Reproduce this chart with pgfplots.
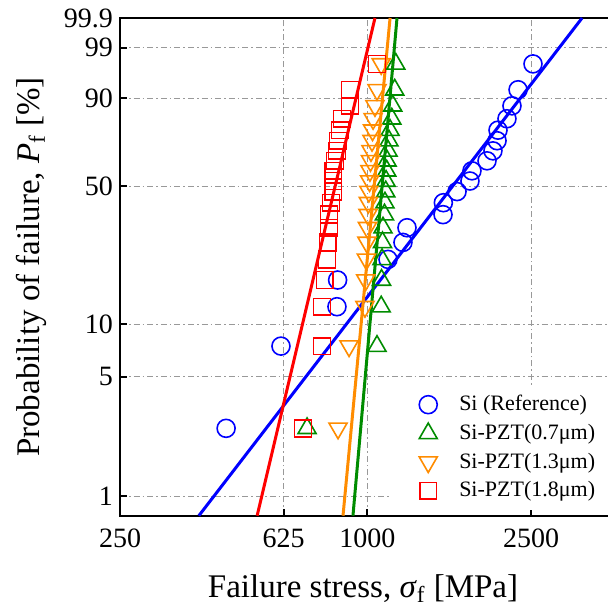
\documentclass[border=0pt]{standalone}
\usepackage{pgfplots}
\pgfplotsset{compat=1.18}
\usepackage{pgfplotstable}
\usepackage{fontspec}
\setmainfont{Liberation Serif}

\definecolor{cblue}{RGB}{0,0,255}
\definecolor{cgreen}{RGB}{0,140,0}
\definecolor{corange}{RGB}{255,140,0}
\definecolor{cred}{RGB}{255,0,0}

% failure stress [MPa] and probability of failure [%]
\pgfplotstableread{
x P
453 2.5
616 7.5
843 12.5
846 17.5
1122 22.5
1220 27.5
1248 32.5
1527 37.5
1530 42.5
1652 47.5
1776 52.5
1796 57.5
1954 62.5
2020 67.5
2067 72.5
2078 77.5
2185 82.5
2247 87.5
2325 92.5
2528 97.5
}\siref

\pgfplotstableread{
x P
713 2.5
1055 7.5
1080 12.5
1082 17.5
1085 22.5
1088 27.5
1091 32.5
1100 37.5
1103 42.5
1108 47.5
1110 52.5
1114 57.5
1116 62.5
1122 67.5
1128 72.5
1135 77.5
1146 82.5
1152 87.5
1165 92.5
1172 97.5
}\pztA

\pgfplotstableread{
x P
848 2.5
902 7.5
986 12.5
990 17.5
994 22.5
997 27.5
1000 32.5
1003 37.5
1005 42.5
1008 47.5
1012 52.5
1014 57.5
1017 62.5
1020 67.5
1026 72.5
1029 77.5
1032 82.5
1043 87.5
1055 92.5
1080 97.5
}\pztB

\pgfplotstableread{
x P
697 2.5
775 7.5
775 12.5
788 17.5
797 22.5
801 27.5
806 32.5
806 37.5
815 42.5
825 47.5
825 52.5
825 57.5
834 62.5
843 67.5
848 72.5
857 77.5
867 82.5
907 87.5
907 92.5
1055 97.5
}\pztC

\begin{document}
\begin{tikzpicture}
\begin{axis}[
    scale only axis,
    width=248pt, height=249pt,
    xmode=log,
    xmin=250, xmax=4025,
    ymin=-4.8734, ymax=1.9327,
    xtick={250,625,1000,2500},
    xticklabels={250,625,1000,2500},
    ytick={-4.6001,-2.9702,-2.2504,-0.3665,0.8340,1.5272,1.9327},
    yticklabels={1,5,10,50,90,99,99.9},
    xtick pos=bottom, ytick pos=left,
    tick align=inside,
    major tick length=3.5pt,
    minor tick num=0,
    every tick/.style={black, line width=1pt},
    axis line style={line width=1pt},
    tick label style={font=\fontsize{14}{14}\selectfont},
    xticklabel style={yshift=-3pt},
    grid=major,
    grid style={gray!80, line width=0.5pt, dash pattern=on 3pt off 1.5pt on 0.8pt off 1.5pt},
    xlabel={Failure stress, \textit{σ}\textsubscript{f} [MPa]},
    ylabel={Probability of failure, \textit{P}\textsubscript{f} [\%]},
    label style={font=\fontsize{16.5}{16.5}\selectfont},
    xlabel style={at={(axis description cs:0.49,-0.145)}, anchor=center},
    ylabel style={at={(axis description cs:-0.178,0.5)}, anchor=center},
    legend style={at={(0.546,0.263)}, anchor=north west, draw=none, fill=white,
        inner xsep=14pt, inner ysep=3pt, row sep=1.2pt,
        font=\fontsize{11}{12}\selectfont,
        /tikz/every odd column/.append style={column sep=9pt}},
    legend cell align=left,
    clip=true,
]
\addplot[only marks, mark=o, cblue, mark size=4.5pt, mark options={line width=0.8pt}]
    table[x=x, y expr={ln(-ln(1-\thisrow{P}/100))}]{\siref};
\addlegendentry{Si (Reference)}
\addplot[only marks, mark=triangle, cgreen, mark size=5.2pt, mark options={line width=0.8pt}]
    table[x=x, y expr={ln(-ln(1-\thisrow{P}/100))}]{\pztA};
\addlegendentry{Si-PZT(0.7μm)}
\addplot[only marks, mark=triangle, corange, mark size=5.2pt, mark options={line width=0.8pt, rotate=180}]
    table[x=x, y expr={ln(-ln(1-\thisrow{P}/100))}]{\pztB};
\addlegendentry{Si-PZT(1.3μm)}
\addplot[only marks, mark=square, cred, mark size=4.2pt, mark options={line width=0.8pt}]
    table[x=x, y expr={ln(-ln(1-\thisrow{P}/100))}]{\pztC};
\addlegendentry{Si-PZT(1.8μm)}

% Weibull fit lines
\addplot[cblue, line width=1.5pt, forget plot]
    table[x=x, y expr={ln(-ln(1-\thisrow{P}/100))}, row sep=\\]{x P\\ 389 0.762\\ 3328 99.9\\};
\addplot[cred, line width=1.5pt, forget plot]
    table[x=x, y expr={ln(-ln(1-\thisrow{P}/100))}, row sep=\\]{x P\\ 539 0.762\\ 1043 99.9\\};
\addplot[corange, line width=1.5pt, forget plot]
    table[x=x, y expr={ln(-ln(1-\thisrow{P}/100))}, row sep=\\]{x P\\ 872 0.762\\ 1135 99.9\\};
\addplot[cgreen, line width=1.5pt, forget plot]
    table[x=x, y expr={ln(-ln(1-\thisrow{P}/100))}, row sep=\\]{x P\\ 922 0.762\\ 1180 99.9\\};
\end{axis}
\pgfresetboundingbox
\path[use as bounding box] ([xshift=-60pt,yshift=-47pt]current axis.south west)
    rectangle ([xshift=243.5pt,yshift=9pt]current axis.north west);
\end{tikzpicture}
\end{document}
